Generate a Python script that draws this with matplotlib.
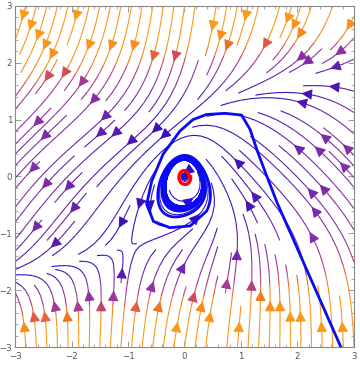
import numpy as np
import matplotlib.pyplot as plt
from matplotlib.colors import LinearSegmentedColormap, Normalize

# plot range and tick labels
x_range = [-3, 3]
y_range = [-3, 3]
ticks = [-3, -2, -1, 0, 1, 2, 3]

# blue trajectory, outer part; the rest is integrated
path_x = [2.77, 1.64, 1.46, 1.30, 1.16, 1.01, 0.72, 0.39, 0.15, -0.08,
          -0.38, -0.58, -0.67, -0.55, -0.26, 0.10, 0.39]
path_y = [-3.0, -0.46, 0.0, 0.42, 0.83, 1.08, 1.11, 1.09, 1.0, 0.80,
          0.39, -0.08, -0.49, -0.79, -0.90, -0.87, -0.61]
t_blue = 60.0

# red trajectory near the origin
red_start = (0.085, 0.0)
t_red = 6.4

# colour scale (weighted speed -> colour)
speed_nodes = [0, 1.2, 3, 4.5, 6, 6.8, 7.4, 8.5, 12]
speed_colors = ['#2a0cd0', '#4612b2', '#7a2ca8', '#9634a0', '#b03c88',
                '#d8504e', '#f07026', '#f78a1c', '#fb9a18']


def field(x, y):
    u = -0.8 * y - 1.3 * x**2 / (1 + 0.3 * x**2)
    v = 1.2 * x + 0.084 * y - 0.7 * y**3
    return u, v


def rk4(x0, y0, t, n=6000):
    h = t / n
    xs, ys = [x0], [y0]
    x, y = x0, y0
    for _ in range(n):
        k1 = field(x, y)
        k2 = field(x + h/2*k1[0], y + h/2*k1[1])
        k3 = field(x + h/2*k2[0], y + h/2*k2[1])
        k4 = field(x + h*k3[0], y + h*k3[1])
        x += h/6*(k1[0] + 2*k2[0] + 2*k3[0] + k4[0])
        y += h/6*(k1[1] + 2*k2[1] + 2*k3[1] + k4[1])
        xs.append(x)
        ys.append(y)
    return np.array(xs), np.array(ys)


xg = np.linspace(x_range[0], x_range[1], 120)
yg = np.linspace(y_range[0], y_range[1], 120)
X, Y = np.meshgrid(xg, yg)
U, V = field(X, Y)
speed = np.hypot(0.3 * U, V)

nodes = [s / speed_nodes[-1] for s in speed_nodes]
cmap = LinearSegmentedColormap.from_list('stream', list(zip(nodes, speed_colors)))

fig = plt.figure(figsize=(3.6, 3.65), dpi=100)
ax = fig.add_axes([0.042, 0.049, 0.941, 0.935])

ax.streamplot(X, Y, U, V, color=speed, cmap=cmap,
              norm=Normalize(0, speed_nodes[-1]), density=1.1,
              linewidth=0.8, arrowsize=1.6)

bx, by = rk4(path_x[-1], path_y[-1], t_blue)
ax.plot(np.concatenate([path_x, bx]), np.concatenate([path_y, by]),
        color='#0a0af5', lw=2.0, zorder=5)

rx, ry = rk4(red_start[0], red_start[1], t_red, n=1000)
ax.plot(rx, ry, color='red', lw=2.4, zorder=6)

ax.set_xlim(x_range)
ax.set_ylim(y_range)
labels = ['\u2212%d' % -t if t < 0 else str(t) for t in ticks]
ax.set_xticks(ticks)
ax.set_yticks(ticks)
ax.set_xticklabels(labels)
ax.set_yticklabels(labels)
ax.set_xticks(np.arange(-3, 3.01, 0.2), minor=True)
ax.set_yticks(np.arange(-3, 3.01, 0.2), minor=True)
ax.tick_params(which='both', direction='in', top=True, right=True,
               color='#888888', labelsize=6.2, labelcolor='#555555')
ax.tick_params(axis='x', pad=3.5)
ax.tick_params(axis='y', pad=2)
ax.tick_params(which='major', length=4, width=0.6)
ax.tick_params(which='minor', length=2, width=0.5)
for s in ax.spines.values():
    s.set_color('#888888')
    s.set_linewidth(0.8)

fig.savefig('out.png', dpi=100)
